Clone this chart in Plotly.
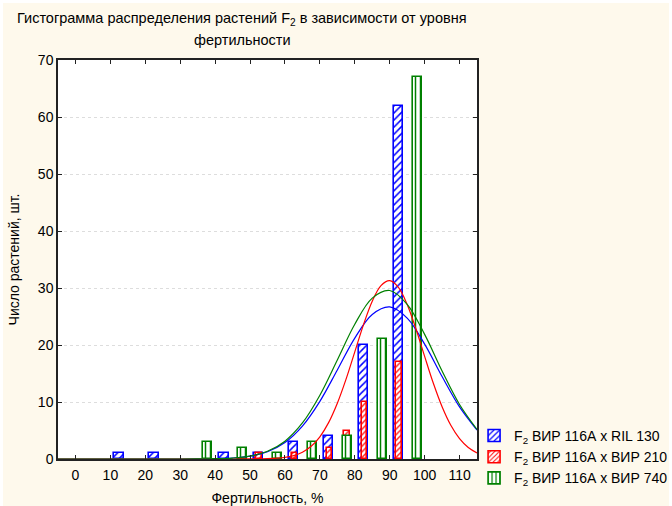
import plotly.graph_objects as go

# ---- data ----
series_names = ["F<sub>2</sub> ВИР 116А x RIL 130",
                "F<sub>2</sub> ВИР 116А x ВИР 210",
                "F<sub>2</sub> ВИР 116А x ВИР 740"]

blue_x = [12.5, 22.5, 42.5, 52.5, 62.5, 72.5, 82.5, 92.5]
blue_y = [1, 1, 1, 1, 3, 4, 20, 62]

red_x = [52.6, 62.7, 72.7, 77.7, 82.8, 92.7, 97.6]
red_y = [1, 1, 2, 5, 10, 17, 0]

green_x = [37.8, 47.8, 57.8, 67.9, 77.9, 87.9, 97.9]
green_y = [3, 2, 1, 3, 4, 21, 67]

# fitted normal curves
curve_x = [-5, 0, 5, 10, 15, 20, 25, 30, 35, 40, 45, 50, 55, 60, 65, 70, 75, 80,
           85, 90, 95, 100, 105, 110, 115]
blue_curve = [0, 0, 0, 0, 0, 0, 0, 0, 0.01, 0.05, 0.17, 0.50, 1.28, 2.90, 5.78, 10.12,
              15.62, 21.21, 25.36, 26.68, 24.72, 20.15, 14.47, 9.14, 5.08]
green_curve = [0, 0, 0, 0, 0, 0, 0, 0, 0.01, 0.05, 0.17, 0.52, 1.36, 3.13, 6.32, 11.19,
               17.37, 23.64, 28.23, 29.56, 27.14, 21.86, 15.44, 9.56, 5.19]
red_curve_x = [-5, 0, 5, 10, 15, 20, 25, 30, 35, 40, 45, 50, 55, 60, 62.5, 65, 67.5, 70,
               72.5, 75, 77.5, 80, 82.5, 85, 87.5, 90, 92.5, 95, 97.5, 100, 102.5, 105,
               107.5, 110, 112.5, 115]
red_curve = [0, 0, 0, 0, 0, 0, 0, 0, 0, 0, 0, 0.01, 0.05, 0.28, 0.60, 1.19, 2.23, 3.90,
             6.38, 9.78, 14.01, 18.79, 23.58, 27.69, 30.43, 31.29, 30.11, 27.11, 22.84,
             18.01, 13.28, 9.17, 5.92, 3.58, 2.03, 1.07]

x_ticks = [0, 10, 20, 30, 40, 50, 60, 70, 80, 90, 100, 110]
y_ticks = [0, 10, 20, 30, 40, 50, 60, 70]

BLUE = "#0000FF"
RED = "#FF0000"
GREEN = "#008000"

fig = go.Figure()

def bar(x, y, w, col, shape, size, name):
    return go.Bar(
        x=x, y=y, width=[w] * len(x), name=name,
        marker=dict(
            color="white",
            line=dict(color=col, width=1.6),
            pattern=dict(shape=shape, fgcolor=col, bgcolor="white",
                         size=size, solidity=0.3, fillmode="replace"),
        ),
    )

fig.add_trace(bar(blue_x, blue_y, 2.7, BLUE, "/", 5, series_names[0]))
fig.add_trace(bar(red_x, red_y, 1.6, RED, "/", 4, series_names[1]))
fig.add_trace(bar(green_x, green_y, 2.7, GREEN, "|", 5, series_names[2]))

for cx, cy, col in [(curve_x, blue_curve, BLUE), (red_curve_x, red_curve, RED),
                    (curve_x, green_curve, GREEN)]:
    fig.add_trace(go.Scatter(x=cx, y=cy, mode="lines", line=dict(color=col, width=1.2, shape="spline"),
                             showlegend=False, hoverinfo="skip"))

FONT = "Liberation Sans, Arial, sans-serif"

# page body margin is set to 3px (white strip as in the reference)
fig.update_layout(
    width=669, height=503,
    margin=dict(l=55, r=195, t=57, b=47, autoexpand=False),
    paper_bgcolor="#FEF9EC",
    plot_bgcolor="white",
    barmode="overlay",
    bargap=0,
    font=dict(family=FONT, size=14, color="black"),
    showlegend=True,
    legend=dict(x=0.993, y=0.098, xanchor="left", yanchor="top",
                bgcolor="rgba(0,0,0,0)", font=dict(size=14, family=FONT),
                tracegroupgap=0, itemwidth=30),
    annotations=[
        dict(text="Гистограмма распределения растений F<sub>2</sub> в зависимости от уровня",
             xref="paper", yref="paper", x=0.44, y=1.1028, xanchor="center", yanchor="middle",
             showarrow=False, font=dict(size=14.5, family=FONT)),
        dict(text="фертильности",
             xref="paper", yref="paper", x=0.44, y=1.050, xanchor="center", yanchor="middle",
             showarrow=False, font=dict(size=14.5, family=FONT)),
    ],
)

fig.update_xaxes(
    range=[-5, 115], tickvals=x_ticks, ticktext=[str(v) for v in x_ticks],
    ticks="inside", ticklen=4, tickcolor="#222", mirror="ticks",
    showline=True, linecolor="#222", linewidth=1.5,
    showgrid=False, zeroline=False, automargin=False,
    ticklabelstandoff=2,
    title=dict(text="Фертильность, %", font=dict(size=14, family=FONT), standoff=14),
    tickfont=dict(size=14, family=FONT),
)
fig.update_yaxes(
    range=[0, 70], tickvals=y_ticks, ticktext=[str(v) for v in y_ticks],
    ticks="inside", ticklen=4, tickcolor="#222", mirror="ticks",
    showline=True, linecolor="#222", linewidth=1.5,
    showgrid=True, gridcolor="#DDDDDD", griddash="dot", gridwidth=1,
    zeroline=False, automargin=False,
    title=dict(text="Число растений, шт.", font=dict(size=14, family=FONT), standoff=15),
    tickfont=dict(size=14, family=FONT),
)

fig.write_html("out.html", post_script="document.body.style.margin='3px';")
